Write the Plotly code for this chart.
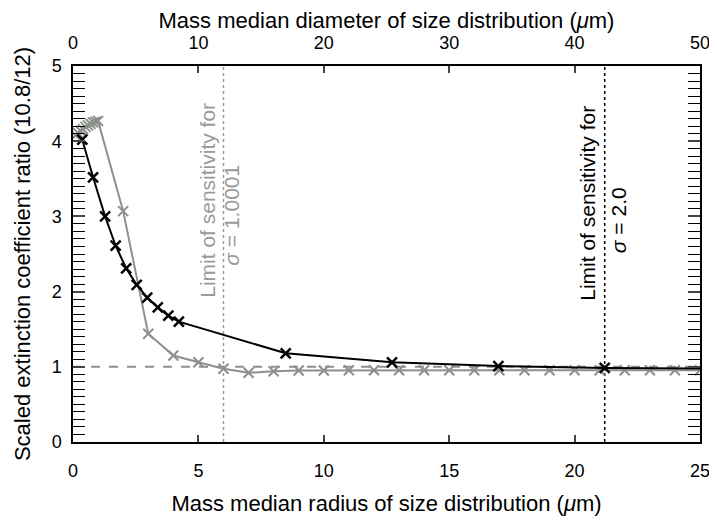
import plotly.graph_objects as go

# sigma = 2.0 (black)
radius_s2 = [0.37, 0.8, 1.28, 1.7, 2.12, 2.54, 2.96, 3.38, 3.8, 4.22, 8.48, 12.72, 16.96, 21.2, 25.44]
ratio_s2 = [4.02, 3.52, 3.00, 2.61, 2.31, 2.09, 1.92, 1.79, 1.68, 1.60, 1.18, 1.06, 1.01, 0.985, 0.975]

# sigma = 1.0001 (grey)
radius_s1 = [0.1, 0.2, 0.3, 0.4, 0.5, 0.6, 0.7, 0.8, 0.9, 1.0,
             2, 3, 4, 5, 6, 7, 8, 9, 10, 11, 12, 13, 14, 15, 16, 17,
             18, 19, 20, 21, 22, 23, 24, 25]
ratio_s1 = [4.08, 4.11, 4.14, 4.16, 4.19, 4.21, 4.23, 4.25, 4.26, 4.27,
            3.07, 1.44, 1.15, 1.06, 0.975, 0.92, 0.94, 0.95, 0.95, 0.955, 0.955, 0.955, 0.955, 0.955, 0.955, 0.955,
            0.955, 0.955, 0.955, 0.955, 0.955, 0.955, 0.955, 0.955]

limit_s1 = 6.0
limit_s2 = 21.2

GREY = "#8c918c"
TXTGREY = "#9a9a9a"
FONT = "Liberation Sans, Arial, sans-serif"

fig = go.Figure()

fig.add_trace(go.Scatter(
    x=radius_s1, y=ratio_s1, mode="lines+markers",
    line=dict(color=GREY, width=2),
    marker=dict(symbol="x-thin", size=10, line=dict(color=GREY, width=2)),
    showlegend=False))

fig.add_trace(go.Scatter(
    x=radius_s2, y=ratio_s2, mode="lines+markers",
    line=dict(color="black", width=2),
    marker=dict(symbol="x-thin", size=10, line=dict(color="black", width=2.5)),
    showlegend=False))

# dummy trace for the top (diameter) axis
fig.add_trace(go.Scatter(x=[0, 50], y=[None, None], xaxis="x2", showlegend=False, hoverinfo="skip"))

# reference line at ratio 1 and sensitivity limits
fig.add_shape(type="line", x0=0, x1=25, y0=1, y1=1, layer="below",
              line=dict(color=GREY, width=2, dash="dash"))
fig.add_shape(type="line", x0=limit_s1, x1=limit_s1, y0=0, y1=5, layer="below",
              line=dict(color=TXTGREY, width=1.5, dash="dot"))
fig.add_shape(type="line", x0=limit_s2, x1=limit_s2, y0=0, y1=5, layer="below",
              line=dict(color="black", width=1.5, dash="dot"))

ann_font = 21
fig.add_annotation(x=5.38, y=3.22, text="Limit of sensitivity for", textangle=-90, showarrow=False,
                   font=dict(size=ann_font, color=TXTGREY, family=FONT))
fig.add_annotation(x=6.34, y=3.01, text="<i>σ</i> = 1.0001", textangle=-90, showarrow=False,
                   font=dict(size=ann_font, color=TXTGREY, family=FONT))
fig.add_annotation(x=20.53, y=3.18, text="Limit of sensitivity for", textangle=-90, showarrow=False,
                   font=dict(size=ann_font, color="black", family=FONT))
fig.add_annotation(x=21.73, y=2.95, text="<i>σ</i> = 2.0", textangle=-90, showarrow=False,
                   font=dict(size=ann_font, color="black", family=FONT))

# the page body has an 8px margin, so the figure is 8px smaller and margins shifted
fig.update_layout(
    width=709, height=513,
    margin=dict(l=65, r=17, t=58, b=79, autoexpand=False),
    plot_bgcolor="white", paper_bgcolor="white",
    font=dict(family=FONT, size=18, color="black"),
    xaxis=dict(range=[0, 25], dtick=5, ticks="inside", ticklen=7, tickwidth=1.5,
               showline=True, linecolor="black", linewidth=1.5, showgrid=False, zeroline=False,
               ticklabelstandoff=12,
               title=dict(text="Mass median radius of size distribution (<i>μ</i>m)", standoff=15)),
    xaxis2=dict(range=[0, 50], dtick=10, ticks="inside", ticklen=7, tickwidth=1.5,
                overlaying="x", side="top", anchor="y",
                showline=True, linecolor="black", linewidth=1.5, showgrid=False, zeroline=False,
                ticklabelstandoff=8,
                title=dict(text="Mass median diameter of size distribution (<i>μ</i>m)", standoff=0)),
    yaxis=dict(range=[0, 5], dtick=1, ticks="inside", ticklen=12, tickwidth=1.5,
               showline=True, linecolor="black", linewidth=1.5, mirror="allticks",
               showgrid=False, zeroline=False, ticklabelstandoff=6,
               minor=dict(dtick=0.1, ticks="inside", ticklen=6, tickwidth=1, tickcolor="black"),
               title=dict(text="Scaled extinction coefficient ratio (10.8/12)", standoff=15)),
)

fig.write_html("out.html")
